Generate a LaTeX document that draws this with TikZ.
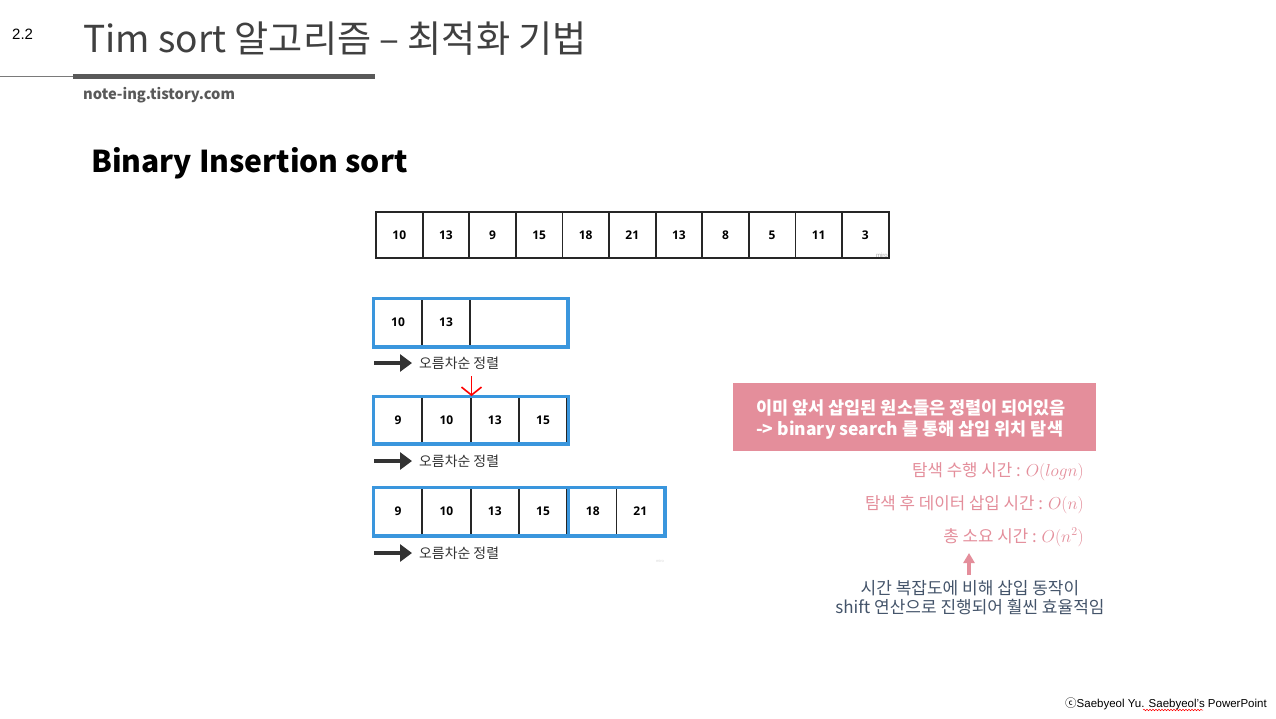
\documentclass[tikz,border=0pt]{standalone}
\usepackage{fontspec}
\setmainfont{Liberation Sans}
\newfontfamily\kr{Noto Sans CJK KR}
\newfontfamily\cellfont{Open Sans}
\usepackage{xcolor}
\usepackage{tikz}
\usetikzlibrary{arrows.meta,%
positioning,decorations.pathmorphing%
}
\definecolor{miroblue}{HTML}{3A96DD}
\definecolor{pinkbox}{HTML}{E48E9B}
\definecolor{titlegray}{HTML}{404040}
\definecolor{bargray}{HTML}{595959}
\definecolor{slate}{HTML}{44546A}
\definecolor{arrowdark}{HTML}{333333}

\begin{document}
\begin{tikzpicture}[x=1pt, y=-1pt,
  cell/.style={draw=black!85, line width=1.8pt, minimum height=46pt, inner sep=0pt, font=\cellfont\bfseries\fontsize{12}{14}\selectfont},
  rowbox/.style={draw=miroblue, line width=3.2pt},
  sortarrow/.style={-{Triangle[length=12pt, width=17pt]}, line width=3.6pt, arrowdark},
  sortlabel/.style={anchor=west, font=\kr\fontsize{13.9}{16}\selectfont, text=black!80, inner sep=0pt},
  notetext/.style={anchor=base west, inner sep=0pt, text=white, font=\kr\bfseries\fontsize{17.5}{20}\selectfont},
  pinkline/.style={anchor=base east, font=\kr\fontsize{16.8}{19}\selectfont, text=pinkbox, inner sep=0pt}]
\newdimen\cw
\newdimen\cwb
\cw=46.6pt
\cwb=48.3pt
\useasboundingbox[fill=white] (0,0) rectangle (1276,718);

% header
\node[anchor=base west, inner sep=0pt, font=\fontsize{15}{17}\selectfont] (secnum) at (12,39) {2.2};
\node[anchor=base west, inner sep=0pt, text=titlegray, font=\kr\fontsize{37.1}{40}\selectfont] (title) at (83,52) {Tim sort 알고리즘 – 최적화 기법};
\draw[bargray!80, line width=0.8pt] (0,76) -- (74,76); % thin rule
\draw[bargray, line width=5pt] (73,76.5) -- (375,76.5); % thick bar
\node[anchor=base west, inner sep=0pt, text=bargray, font=\kr\bfseries\fontsize{14.7}{16}\selectfont] (blog) at (83,99) {note-ing.tistory.com};
\node[anchor=base west, inner sep=0pt, font=\kr\bfseries\fontsize{30.1}{33}\selectfont] (heading) at (91,172) {Binary Insertion sort};

% input array
\foreach \v [count=\i from 0] in {10,13,9,15,18,21,13,8,5,11,3}
  \node[cell, minimum width=\cw] (top\i) at ({376+23.3+46.6*\i},235) {\v};
\node[anchor=south east, inner sep=1.5pt, text=black!35, font=\fontsize{6}{7}\selectfont] (miroA) at (top10.south east) {miro};

% step 1
\node[cell, minimum width=48pt, minimum height=47pt] (r1a) at (398,322.5) {10};
\node[cell, minimum width=48pt, minimum height=47pt] (r1b) at (446,322.5) {13};
\node[cell, minimum width=97pt, minimum height=47pt] (r1c) at (518.5,322.5) {};
\draw[rowbox] (r1a.north west) rectangle (r1c.south east);
\coordinate (a1) at (374,363);
\node[sortlabel] (lab1) at (419,363) {오름차순 정렬};
\draw[sortarrow] (a1) -- ([xshift=-7pt]lab1.west);

% step 2
\foreach \v/\n [count=\i from 0] in {9/a,10/b,13/c,15/d}
  \node[cell, minimum width=\cwb] (r2\n) at ({374+24.15+48.3*\i},420) {\v};
\draw[rowbox] (r2a.north west) rectangle (r2d.south east);
\coordinate (ins) at (r2b.north east |- 0,376);
\draw[red, line width=1.6pt, -{Straight Barb[length=8pt, width=20pt]}] (ins) -- (r2b.north east);
\coordinate (a2) at (374,461);
\node[sortlabel] (lab2) at (419,461) {오름차순 정렬};
\draw[sortarrow] (a2) -- ([xshift=-7pt]lab2.west);

% step 3
\foreach \v/\n [count=\i from 0] in {9/a,10/b,13/c,15/d}
  \node[cell, minimum width=\cwb, minimum height=47pt] (r3\n) at ({374+24.15+48.3*\i},511.5) {\v};
\foreach \v/\n [count=\i from 0] in {18/e,21/f}
  \node[cell, minimum width=47.5pt, minimum height=47pt] (r3\n) at ({569+23.75+47.5*\i},511.5) {\v};
\draw[rowbox] (r3a.north west) rectangle (r3d.south east);
\draw[rowbox] (r3e.north west) rectangle (r3f.south east);
\node[inner sep=0pt, text=black!15, font=\fontsize{4}{5}\selectfont] (miroB) at (660,561) {miro};
\coordinate (a3) at (374,553);
\node[sortlabel] (lab3) at (419,553) {오름차순 정렬};
\draw[sortarrow] (a3) -- ([xshift=-7pt]lab3.west);

% explanation
\node[fill=pinkbox, minimum width=363pt, minimum height=68pt, inner sep=0pt] (note) at (914.5,417) {};
\node[notetext] (noteA) at (756,414) {이미 앞서 삽입된 원소들은 정렬이 되어있음};
\node[notetext] (noteB) at (756,435) {-> binary search 를 통해 삽입 위치 탐색};
\node[pinkline] (cost1) at (1084,476) {탐색 수행 시간 : $O(logn)$};
\node[pinkline] (cost2) at (1084,509) {탐색 후 데이터 삽입 시간 : $O(n)$};
\node[pinkline] (cost3) at (1084,542) {총 소요 시간 : $O(n^2)$};
\node[anchor=north, inner sep=0pt, align=center, text=slate, font=\kr\fontsize{17}{19}\selectfont] (remark) at (970,580) {시간 복잡도에 비해 삽입 동작이\\shift 연산으로 진행되어 훨씬 효율적임};
\coordinate (up) at (969,553);
\draw[pinkbox, line width=3.6pt, -{Triangle[length=10pt, width=11pt]}] ([yshift=5pt]remark.north -| up) -- (up);

% footer
\node[anchor=base east, inner sep=0pt, font=\fontsize{11.5}{13}\selectfont] (credit) at (1267,707) {{\kr ⓒ}Saebyeol Yu. Saebyeol’s PowerPoint};
\draw[red, line width=0.5pt, decorate, decoration={snake, amplitude=0.7pt, segment length=3pt}] (1143,710) -- (1203,710);
\end{tikzpicture}
\end{document}
